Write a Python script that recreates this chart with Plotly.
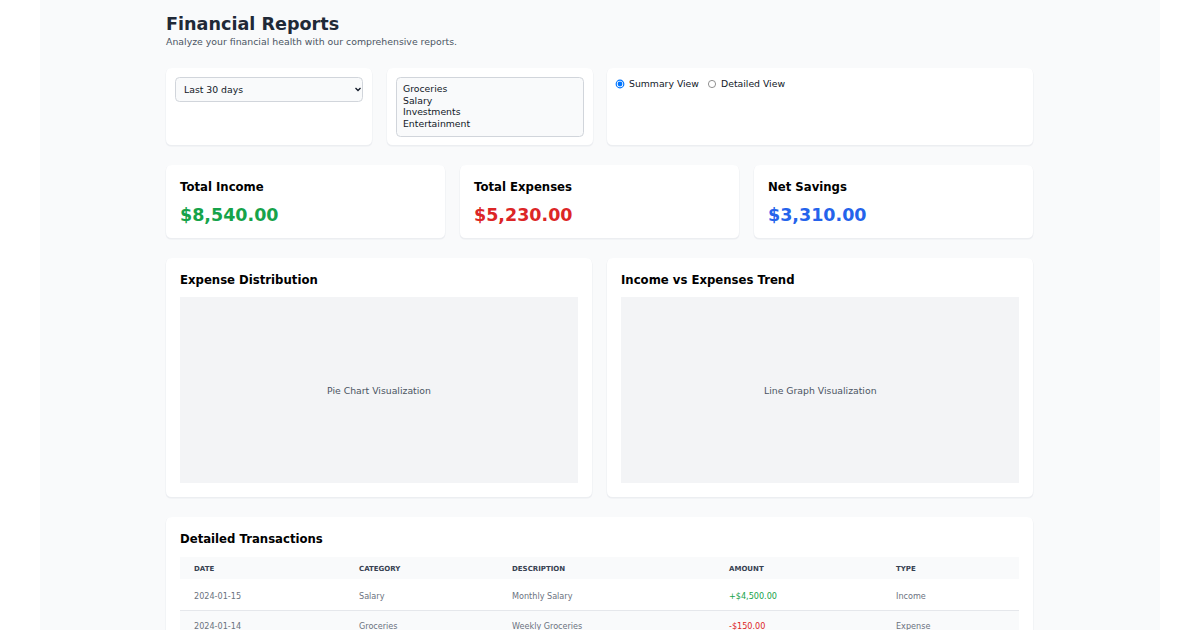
import plotly.graph_objects as go

# ---------------- data ----------------
page_title = "Financial Reports"
page_subtitle = "Analyze your financial health with our comprehensive reports."
date_range_options = ["Last 30 days"]
category_options = ["Groceries", "Salary", "Investments", "Entertainment"]
view_options = ["Summary View", "Detailed View"]
selected_view = "Summary View"

summary_labels = ["Total Income", "Total Expenses", "Net Savings"]
summary_values = [8540.00, 5230.00, 3310.00]
summary_colors = ["#16a34a", "#dc2626", "#2563eb"]

chart_titles = ["Expense Distribution", "Income vs Expenses Trend"]
chart_placeholders = ["Pie Chart Visualization", "Line Graph Visualization"]

table_title = "Detailed Transactions"
table_columns = ["DATE", "CATEGORY", "DESCRIPTION", "AMOUNT", "TYPE"]
tx_dates = ["2024-01-15", "2024-01-14"]
tx_categories = ["Salary", "Groceries"]
tx_descriptions = ["Monthly Salary", "Weekly Groceries"]
tx_amounts = [4500.00, -150.00]
tx_types = ["Income", "Expense"]

# ---------------- helpers ----------------
FONT = "DejaVu Sans"
W, H = 1200, 630
shapes = []
annotations = []


def rrect(x0, y0, x1, y1, r, fill, line=None, lw=0):
    path = (f"M{x0+r},{y0} L{x1-r},{y0} Q{x1},{y0} {x1},{y0+r} "
            f"L{x1},{y1-r} Q{x1},{y1} {x1-r},{y1} L{x0+r},{y1} "
            f"Q{x0},{y1} {x0},{y1-r} L{x0},{y0+r} Q{x0},{y0} {x0+r},{y0} Z")
    shapes.append(dict(type="path", path=path, xref="x", yref="y",
                       fillcolor=fill, line=dict(color=line or fill, width=lw),
                       layer="below"))


def card(x0, y0, x1, y1):
    rrect(x0 - 0.5, y0 + 0.5, x1 + 0.5, y1 + 1.5, 6, "#eceef1")
    rrect(x0, y0, x1, y1, 6, "#ffffff")


def text(x, y, s, size, color="#111827", bold=False, anchor="left", family=FONT):
    if bold:
        s = f"<b>{s}</b>"
    if anchor == "left":
        x -= 1
    annotations.append(dict(x=x, y=y, xref="x", yref="y", text=s, showarrow=False,
                            xanchor=anchor, yanchor="middle", borderpad=0,
                            font=dict(family=family, size=size, color=color)))


def money(v, sign=False):
    s = f"${abs(v):,.2f}"
    if sign:
        s = ("+" if v >= 0 else "-") + s
    return s


# page background
shapes.append(dict(type="rect", x0=40, x1=1160, y0=0, y1=H, xref="x", yref="y",
                   fillcolor="#f9fafb", line=dict(width=0), layer="below"))

# header
text(166, 24, page_title, 17.6, "#1f2937", bold=True)
text(166, 41.5, page_subtitle, 9.35, "#4b5563")

# filter cards
card(166, 68, 372, 145)
card(387, 68, 593, 145)
card(607, 68, 1033, 145)

rrect(175.5, 77.5, 362.5, 101.5, 4, "#f9fafb", "#d1d5db", 1)
text(184, 89.5, date_range_options[0], 9.3, "#111827")
shapes.append(dict(type="path", path="M355.5,88 L358,90.5 L360.5,88", xref="x", yref="y",
                   line=dict(color="#111827", width=1.3)))

rrect(396.5, 77.5, 583.5, 136.5, 4, "#f9fafb", "#d1d5db", 1)
for i, opt in enumerate(category_options):
    text(403, 88.5 + i * 11.6, opt, 9.3, "#111827")

radio_x = [620, 712]
for rx, opt in zip(radio_x, view_options):
    if opt == selected_view:
        shapes.append(dict(type="circle", x0=rx - 3.8, x1=rx + 3.8, y0=84 - 3.8, y1=84 + 3.8,
                           xref="x", yref="y", fillcolor="#ffffff", line=dict(color="#0075ff", width=1.2)))
        shapes.append(dict(type="circle", x0=rx - 2.4, x1=rx + 2.4, y0=84 - 2.4, y1=84 + 2.4,
                           xref="x", yref="y", fillcolor="#0075ff", line=dict(width=0)))
    else:
        shapes.append(dict(type="circle", x0=rx - 3.6, x1=rx + 3.6, y0=84 - 3.6, y1=84 + 3.6,
                           xref="x", yref="y", fillcolor="#ffffff", line=dict(color="#767676", width=0.8)))
    text(rx + 8.5, 83.5, opt, 9.3, "#111827")

# summary cards
sx = [(166, 445), (460, 739), (754, 1033)]
for (x0, x1), lab, val, col in zip(sx, summary_labels, summary_values, summary_colors):
    card(x0, 165, x1, 238)
    text(x0 + 14, 186.5, lab, 11.7, "#000000", bold=True)
    text(x0 + 14, 214.5, money(val), 17.5, col, bold=True)

# chart cards
cx = [(166, 592), (607, 1033)]
for (x0, x1), t, ph in zip(cx, chart_titles, chart_placeholders):
    card(x0, 258, x1, 497)
    text(x0 + 14, 280, t, 11.7, "#000000", bold=True)
    shapes.append(dict(type="rect", x0=x0 + 14, x1=x1 - 14, y0=297, y1=483, xref="x", yref="y",
                       fillcolor="#f3f4f6", line=dict(width=0), layer="below"))
    text((x0 + x1) / 2, 390.5, ph, 9.3, "#4b5563", anchor="center")

# table card
card(166, 517, 1033, 660)
text(180, 539, table_title, 11.7, "#000000", bold=True)
shapes.append(dict(type="rect", x0=180, x1=1019, y0=557, y1=579, xref="x", yref="y",
                   fillcolor="#f9fafb", line=dict(width=0), layer="below"))
col_x = [194, 359, 512, 729, 896]
for cxp, c in zip(col_x, table_columns):
    text(cxp, 568.5, c, 7, "#374151", bold=True)

row_y = [595.5, 626]
shapes.append(dict(type="rect", x0=180, x1=1019, y0=611, y1=645, xref="x", yref="y",
                   fillcolor="#f9fafb", line=dict(width=0), layer="below"))
shapes.append(dict(type="line", x0=180, x1=1019, y0=610.5, y1=610.5, xref="x", yref="y",
                   line=dict(color="#e5e7eb", width=1)))
for i in range(len(tx_dates)):
    ry = row_y[i]
    amt_col = "#16a34a" if tx_amounts[i] >= 0 else "#dc2626"
    vals = [tx_dates[i], tx_categories[i], tx_descriptions[i], money(tx_amounts[i], True), tx_types[i]]
    cols = ["#6b7280", "#6b7280", "#6b7280", amt_col, "#6b7280"]
    for cxp, v, cc in zip(col_x, vals, cols):
        text(cxp, ry, v, 9, cc, family="DejaVu Sans Condensed, DejaVu Sans")

fig = go.Figure()
fig.update_layout(
    width=W, height=H,
    margin=dict(l=0, r=0, t=0, b=0),
    paper_bgcolor="#ffffff", plot_bgcolor="rgba(0,0,0,0)",
    xaxis=dict(range=[0, W], visible=False, fixedrange=True),
    yaxis=dict(range=[H, 0], visible=False, fixedrange=True),
    shapes=shapes, annotations=annotations, showlegend=False,
)
fig.write_html("out.html", config={"displayModeBar": False},
               post_script="document.body.style.margin='0';document.body.style.overflow='hidden';")
